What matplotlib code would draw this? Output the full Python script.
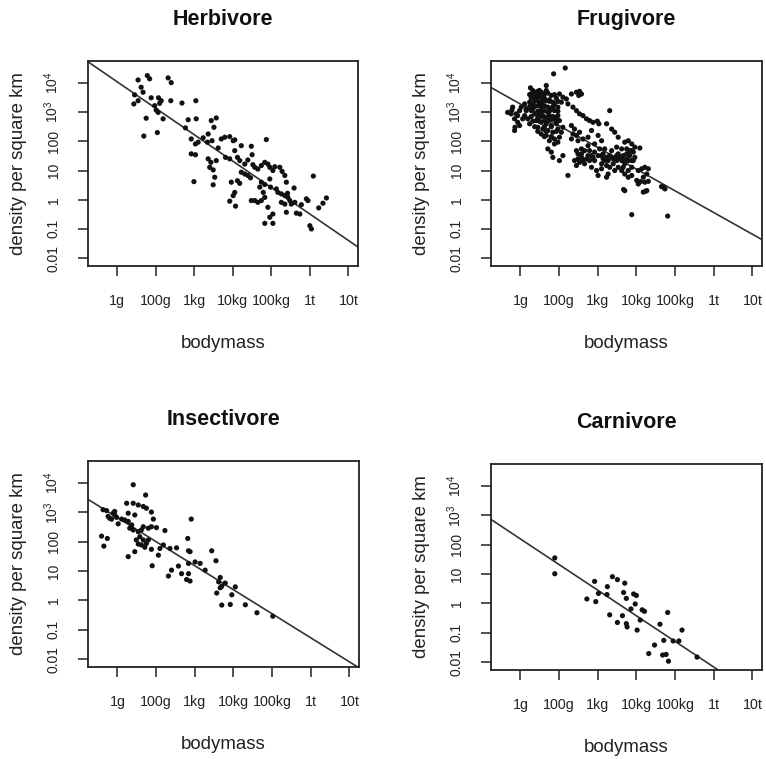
import numpy as np
import matplotlib
matplotlib.use('Agg')
import matplotlib.pyplot as plt

plt.rcParams['font.family'] = ['Liberation Sans', 'DejaVu Sans']
plt.rcParams['mathtext.fontset'] = 'custom'
plt.rcParams['mathtext.rm'] = 'Liberation Sans'
plt.rcParams['mathtext.it'] = 'Liberation Sans:italic'

# ---------------- axis ticks ----------------
mass_ticks = [1, 2, 3, 4, 5, 6, 7]
mass_labels = ['1g', '100g', '1kg', '10kg', '100kg', '1t', '10t']
density_ticks = [0.01, 0.1, 1, 10, 100, 1000, 10000]
density_labels = ['0.01', '0.1', '1', '10', '100',
                  r'$\mathregular{10^3}$', r'$\mathregular{10^4}$']

groups = ['Herbivore', 'Frugivore', 'Insectivore', 'Carnivore']
# regression lines: log10(density) = intercept + slope * log-mass position
fit_intercepts = [4.94, 4.02, 3.64, 3.07]
fit_slopes = [-0.905, -0.743, -0.819, -0.873]

# ---------------- data (log-mass position, log10 density) ----------------
herb_logmass = [
    1.54, 1.78, 1.84, 2.32, 2.40, 1.62, 1.67, 1.45, 1.54, 1.43, 1.88, 2.07, 2.14, 2.10, 1.97,
    2.01, 2.06, 2.39, 2.68, 3.04, 1.75, 2.19, 1.69, 2.04, 2.84, 3.05, 3.44, 3.57, 3.51, 2.77,
    2.92, 3.03, 3.10, 3.23, 3.36, 3.34, 3.46, 2.92, 3.03, 2.99, 3.36, 3.43, 3.57, 3.40, 3.49,
    3.53, 3.49, 3.70, 3.79, 3.92, 4.01, 4.05, 3.62, 3.81, 3.92, 4.05, 4.12, 4.22, 4.18, 4.31,
    4.48, 4.50, 4.39, 4.52, 4.87, 4.22, 4.31, 4.39, 4.46, 4.12, 3.96, 4.18, 4.05, 4.01, 3.92,
    4.07,
    4.57, 4.65, 4.74, 4.83, 4.91, 4.96, 5.04, 5.09, 5.22, 5.28, 5.35, 5.39, 4.74, 4.83, 4.96,
    4.70, 4.79, 4.83, 4.74, 4.65, 4.57, 4.48, 4.98, 5.13, 5.17, 5.26, 5.35, 5.42, 5.43, 5.48,
    5.26, 5.35, 5.52, 5.61, 5.59, 4.91, 5.04, 4.96, 4.83, 5.04, 5.39, 5.65, 5.74, 5.91, 5.95,
    6.09, 6.23, 6.34, 6.43, 6.00, 6.04, 5.78,
]
herb_logdens = [
    4.10, 4.25, 4.14, 4.17, 4.01, 3.85, 3.68, 3.59, 3.39, 3.28, 3.49, 3.49, 3.39, 3.30, 3.22,
    3.07, 2.99, 3.39, 3.31, 3.39, 2.79, 2.77, 2.18, 2.30, 2.74, 2.77, 2.71, 2.80, 2.48, 2.46,
    2.08, 1.91, 1.97, 2.12, 2.25, 1.97, 2.02, 1.57, 1.54, 0.62, 1.40, 1.28, 1.34, 1.11, 1.02,
    0.77, 0.51, 2.08, 2.14, 2.16, 2.02, 2.05, 1.77, 1.45, 1.40, 1.68, 1.45, 1.85, 1.34, 1.22,
    1.83, 1.54, 1.36, 1.20, 2.06, 0.94, 0.88, 0.83, 0.75, 0.65, 0.60, 0.56, 0.25, 0.14, -0.05,
    -0.22,
    1.11, 1.05, 1.17, 1.28, 1.22, 1.11, 1.00, 1.13, 1.11, 0.97, 0.83, 0.60, 0.60, 0.52, 0.71,
    0.43, 0.25, 0.08, -0.03, -0.09, -0.03, -0.03, 0.43, 0.37, 0.25, 0.20, 0.14, 0.22, 0.08, -0.03,
    -0.09, -0.15, -0.15, -0.09, 0.40, -0.26, -0.49, -0.60, -0.81, -0.81, -0.43, -0.46, -0.49, 0.03, -0.03,
    0.81, -0.28, -0.12, 0.06, -0.89, -1.00, -0.17,
]

frug_logmass = [
    1.86, 2.16, 1.67, 1.26,
    2.32, 2.45, 2.53, 2.58, 2.51,
    2.01, 2.10, 2.19, 2.06, 2.23, 2.36, 2.45, 2.53, 2.62, 2.71, 2.79, 2.88, 2.99, 3.03,
    3.31,
    0.67, 0.78, 0.89, 0.85, 0.93, 0.86, 0.85, 0.93, 1.02, 1.11, 1.15,
    1.28, 1.37, 1.45, 1.54, 1.62, 1.71, 1.80, 1.32, 1.41, 1.49, 1.58, 1.67, 1.75, 1.84, 1.24,
    1.32, 1.45, 1.54, 1.62, 1.71, 1.80, 1.88, 1.28, 1.37, 1.49, 1.58, 1.67, 1.75, 1.84, 1.93,
    1.41, 1.54, 1.67, 1.80, 1.93, 1.45, 1.58, 1.71, 1.84, 1.97, 1.54, 1.67, 1.75, 1.88, 2.01,
    2.06, 2.10, 2.01, 1.97, 1.88, 1.97, 1.11, 1.19, 1.24, 1.15,
    1.41, 1.58, 1.49, 1.62, 1.71, 1.45, 1.75, 1.62, 1.32, 1.54,
    1.32, 1.49, 1.67, 1.24, 1.45, 1.88, 1.28, 1.62, 1.93, 1.37, 1.58, 1.75, 1.97,
    1.24, 1.37, 1.84, 1.45, 1.54, 1.75, 1.97, 1.28, 1.54, 1.84, 1.32, 1.49, 1.71, 1.93,
    1.37, 1.62, 1.80, 1.45, 1.67, 1.93, 1.62, 1.80,
    0.76, 0.80, 0.98, 1.06, 0.98,
    1.71, 1.80, 1.88, 1.97, 1.84, 2.01, 2.10, 2.23,
    2.32, 2.40, 2.36, 2.45, 2.53, 2.32, 2.49, 2.62, 2.75, 2.84, 3.01, 3.10, 2.92, 2.75, 2.58, 2.45,
    2.49, 2.58, 2.71, 2.40, 2.53, 2.66, 2.79, 2.88, 3.01, 3.14, 3.23, 3.31, 3.40, 3.49, 3.57,
    3.66, 3.75, 3.83, 3.92, 3.96, 3.79, 3.70, 3.66, 3.79, 3.88, 2.84, 2.97, 3.01, 3.10, 3.23,
    3.31, 3.44, 3.53, 3.23, 3.27, 3.40, 3.62, 3.49, 3.36, 3.18, 3.05, 2.92, 2.79, 2.66, 3.70,
    3.79, 3.88, 3.53, 3.44, 3.36, 3.23, 4.09, 3.88,
    3.83, 3.75, 3.92, 3.62, 3.53, 3.27, 3.14, 3.10, 2.58, 2.84,
    2.62, 2.75, 2.92, 3.18, 3.36, 3.49, 3.66, 3.88, 3.75, 3.96, 2.49, 2.45, 3.10, 3.62,
    3.70, 3.79, 3.88, 4.05, 4.14, 4.22, 4.31, 4.27, 4.18, 4.01, 4.05, 4.22, 4.31, 3.70, 4.18,
    4.27, 4.70, 4.74, 3.88, 4.81,
    4.11, 4.24, 4.65, 3.67,
]
frug_logdens = [
    4.31, 4.51, 3.91, 3.83,
    3.62, 3.68, 3.71, 3.62, 3.57,
    3.62, 3.51, 3.45, 3.34, 3.28, 3.17, 3.05, 2.94, 2.88, 2.77, 2.71, 2.65, 2.69, 2.60,
    3.05,
    2.99, 3.07, 2.94, 2.77, 2.65, 2.48, 2.37, 2.88, 3.17, 3.28, 3.05,
    3.62, 3.68, 3.71, 3.68, 3.62, 3.65, 3.57, 3.51, 3.45, 3.51, 3.45, 3.39, 3.42, 3.34, 3.34,
    3.28, 3.22, 3.17, 3.22, 3.17, 3.11, 3.05, 3.05, 2.94, 2.94, 2.88, 2.82, 2.88, 2.77, 2.82,
    2.71, 2.65, 2.60, 2.54, 2.60, 2.48, 2.42, 2.37, 2.31, 2.42, 2.25, 2.20, 2.02, 2.08, 2.14,
    2.31, 2.48, 2.71, 2.88, 3.28, 3.17, 2.88, 2.77, 2.60, 3.11,
    3.57, 3.57, 3.34, 3.05, 2.99, 2.82, 2.71, 2.71, 3.11, 3.28,
    3.74, 3.74, 3.74, 3.60, 3.60, 3.60, 3.48, 3.48, 3.48, 3.37, 3.37, 3.37, 3.37,
    3.19, 3.19, 3.19, 3.03, 3.03, 3.03, 3.03, 2.85, 2.85, 2.85, 2.69, 2.69, 2.69, 2.69,
    2.50, 2.50, 2.50, 2.34, 2.34, 2.34, 2.16, 2.16,
    2.94, 3.17, 3.05, 2.77, 2.54,
    1.74, 1.63, 1.91, 1.97, 1.45, 1.34, 1.51, 0.83,
    2.54, 2.42, 2.25, 2.20, 2.31, 2.08, 2.02, 2.08, 2.14, 2.37, 2.20, 2.02, 1.91, 1.85, 1.74, 1.68,
    1.57, 1.45, 1.40, 1.34, 1.28, 1.23, 1.34, 1.45, 1.51, 1.57, 1.45, 1.51, 1.40, 1.34, 1.45,
    1.51, 1.57, 1.51, 1.63, 1.45, 1.34, 1.23, 1.11, 1.00, 1.11, 1.11, 1.00, 0.83, 1.23, 1.17,
    1.11, 1.00, 1.11, 0.77, 0.88, 1.23, 1.74, 1.80, 1.68, 1.74, 1.74, 1.63, 1.68, 1.68, 1.97,
    2.02, 1.91, 2.14, 2.31, 2.42, 2.60, 1.77, 1.68,
    1.68, 1.40, 1.34, 1.34, 1.57, 1.34, 1.40, 1.51, 1.57, 1.51,
    1.34, 1.51, 1.34, 1.34, 1.45, 1.51, 1.34, 1.34, 1.74, 1.80, 1.40, 1.17, 1.06, 1.00,
    0.88, 0.77, 0.83, 1.00, 1.06, 1.11, 1.06, 0.88, 0.77, 0.66, 0.54, 0.60, 0.63, 0.31, 0.26,
    0.31, 0.43, 0.37, -0.51, -0.56,
    0.62, 0.29, 0.45, 0.35,
]

insect_logmass = [
    1.41, 1.73, 1.24, 1.41, 1.54, 1.67, 1.75, 1.88, 1.28, 1.93, 1.28, 1.37, 1.32, 1.41, 1.54,
    1.62, 1.67, 1.80, 1.88, 2.01, 2.23, 0.59, 0.74, 0.65, 1.02, 0.85, 0.93, 0.76, 0.89, 0.98,
    0.63, 0.72, 0.80, 0.93, 1.58, 1.80, 1.75, 1.62, 1.54, 1.71, 1.88, 2.06, 1.28, 1.45, 1.90,
    2.36, 2.53, 2.19, 2.82, 2.91, 2.84, 2.88, 3.01, 3.14, 2.84, 2.58, 2.66, 2.84, 2.32, 2.40,
    2.79, 2.88, 3.27, 3.44, 3.55, 3.66, 3.62, 3.79, 3.70, 3.57, 3.66, 4.05, 3.96, 3.70, 3.92,
    4.31, 4.61, 5.02, 1.11, 1.19, 1.45, 1.49, 1.67, 2.10,
]
insect_logdens = [
    3.94, 3.59, 3.31, 3.31, 3.25, 3.20, 3.14, 3.01, 2.97, 2.77, 2.69, 2.57, 2.46, 2.40, 2.34,
    2.40, 2.51, 2.46, 2.51, 2.48, 2.38, 2.19, 2.11, 1.85, 2.61, 2.77, 2.91, 2.86, 2.97, 2.83,
    3.09, 3.06, 2.80, 3.03, 2.17, 2.06, 1.94, 1.89, 1.92, 1.81, 1.74, 1.54, 1.49, 1.66, 1.18,
    1.77, 1.79, 1.89, 2.11, 2.77, 1.69, 1.66, 1.31, 1.26, 1.26, 1.17, 0.91, 0.91, 0.83, 1.03,
    0.71, 0.66, 1.03, 1.69, 1.35, 0.78, 0.63, 0.59, 0.48, 0.25, 0.43, 0.46, 0.19, -0.16, -0.14,
    -0.15, -0.42, -0.54, 2.77, 2.74, 2.91, 2.06, 2.06, 1.77,
]

carn_logmass = [
    1.89, 1.89, 2.92, 3.38, 3.51, 3.70, 3.25, 3.02, 3.24, 2.72, 2.95, 3.67, 3.93, 4.00, 3.74,
    3.97, 3.86, 4.15, 4.21, 4.10, 3.31, 3.64, 3.51, 3.74, 3.76, 4.02, 4.81, 4.61, 5.18, 4.71,
    4.95, 5.10, 4.47, 4.32, 4.68, 4.77, 4.83, 5.57,
]
carn_logdens = [
    1.55, 1.01, 0.75, 0.91, 0.81, 0.69, 0.57, 0.34, 0.30, 0.15, 0.06, 0.37, 0.32, 0.27, 0.17,
    -0.02, -0.19, -0.22, -0.27, -0.57, -0.39, -0.42, -0.65, -0.69, -0.80, -0.91, -0.31, -0.71, -0.91, -1.26,
    -1.28, -1.28, -1.42, -1.71, -1.76, -1.74, -1.97, -1.83,
]

data = [
    (herb_logmass, herb_logdens),
    (frug_logmass, frug_logdens),
    (insect_logmass, insect_logdens),
    (carn_logmass, carn_logdens),
]

# ---------------- layout ----------------
W, H = 766, 759
fig = plt.figure(figsize=(W / 100, H / 100), dpi=100)
boxes = [
    (88, 358, 61, 266),
    (491, 762, 61, 266),
    (88, 359, 461, 667),
    (491, 762, 464, 670),
]
xlim = (0.24, 7.25)
ylim = (10 ** -2.27, 10 ** 4.75)

for name, (lm, ld), (l, r, t, b), a, s in zip(groups, data, boxes,
                                               fit_intercepts, fit_slopes):
    ax = fig.add_axes([l / W, 1 - b / H, (r - l) / W, (b - t) / H])
    ax.set_yscale('log')
    ax.set_xlim(*xlim)
    ax.set_ylim(*ylim)
    ax.scatter(lm, 10 ** np.array(ld), s=14, c='#111111', edgecolors='none',
               zorder=3)
    xs = np.linspace(xlim[0], xlim[1], 50)
    ax.plot(xs, 10 ** (a + s * xs), color='#333333', lw=1.2, zorder=2)

    ax.set_xticks(mass_ticks)
    ax.set_xticklabels(mass_labels)
    ax.set_yticks(density_ticks)
    ax.set_yticklabels(density_labels, rotation=90, va='center')
    ax.minorticks_off()
    ax.tick_params(axis='x', length=7.5, width=1.1, pad=13, labelsize=10.3,
                   colors='#222222')
    ax.tick_params(axis='y', length=7.5, width=1.1, pad=12, labelsize=10,
                   colors='#222222')
    for sp in ax.spines.values():
        sp.set_linewidth(1.3)
        sp.set_color('#222222')

    ax.set_title(name, fontsize=15.5, fontweight='bold', pad=26,
                 color='#111111')
    ax.set_xlabel('bodymass', fontsize=13.4, labelpad=19, color='#222222')
    ax.set_ylabel('density per square km', fontsize=13.4, labelpad=11,
                  color='#222222')

fig.savefig('out.png', dpi=100, facecolor='white')
